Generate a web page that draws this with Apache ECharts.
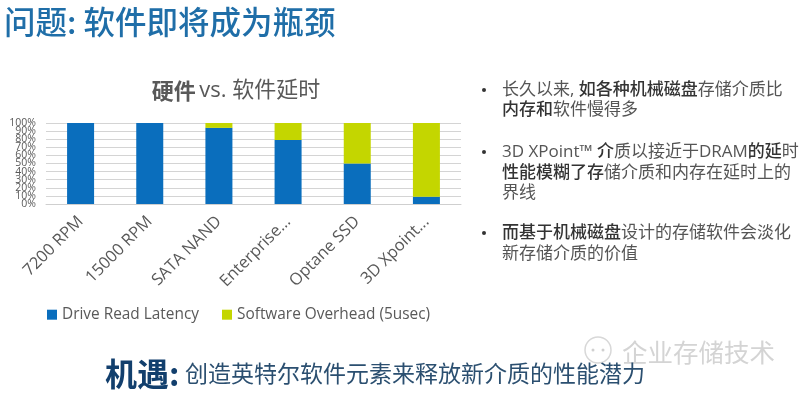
<!DOCTYPE html>
<html>
<head>
<meta charset="utf-8">
<style>
  html, body { margin: 0; padding: 0; background: #fff; }
  #chart { width: 800px; height: 394px; }
</style>
<script src="https://cdn.jsdelivr.net/npm/echarts@6/dist/echarts.min.js"></script>
</head>
<body>
<div id="chart"></div>
<script>
var categories = ["7200 RPM", "15000 RPM", "SATA NAND", "Enterprise...", "Optane SSD", "3D Xpoint..."];
var driveLatency = [100, 100, 94, 79, 50, 9];
var softwareOverhead = [0, 0, 6, 21, 50, 91];
var yTicks = [0, 10, 20, 30, 40, 50, 60, 70, 80, 90, 100];

var seriesNames = ["Drive Read Latency", "Software Overhead (5usec)"];
var cjk = '"Noto Sans CJK SC", sans-serif';
var latin = '"Open Sans", "Noto Sans CJK SC", sans-serif';

// 右侧要点，{b|} 是粗体
var bulletLines = [
  { y: 90, bullet: true, text: "{r|长久以来, }{b|如各种机械磁盘}{r|存储介质比}" },
  { y: 110, text: "{b|内存和}{r|软件慢得多}" },
  { y: 152, bullet: true, text: "{r|3D XPoint™ }{b|介}{r|质以接近于DRAM}{b|的延}{r|时}" },
  { y: 173, text: "{b|性能模糊了存}{r|储介质和内存在延时上的}" },
  { y: 193, text: "{r|界线}" },
  { y: 233, bullet: true, text: "{b|而基于机械磁盘}{r|设计的存储软件会淡化}" },
  { y: 254, text: "{r|新存储介质的价值}" }
];

function textEl(x, y, text, font, size, color, weight, align) {
  return {
    type: "text",
    x: x,
    y: y,
    style: {
      text: text,
      fontFamily: font,
      fontSize: size,
      fontWeight: weight || "normal",
      fill: color,
      align: align || "left",
      verticalAlign: "middle"
    }
  };
}

var graphics = [
  textEl(4, 22, "问题: 软件即将成为瓶颈", cjk, 31.5, "#1f6ea8", "500"),
  {
    type: "text",
    x: 236,
    y: 91,
    style: {
      text: "{b|硬件} {r|vs. 软件延时}",
      align: "center",
      verticalAlign: "middle",
      rich: {
        b: { fontFamily: cjk, fontSize: 22, fontWeight: "bold", fill: "#595959" },
        r: { fontFamily: latin, fontSize: 22, fill: "#595959" }
      }
    }
  },
  // 水印
  textEl(622, 352, "企业存储技术", cjk, 25.5, "#d4d4d4"),
  {
    type: "circle",
    shape: { cx: 598, cy: 350, r: 13 },
    style: { fill: "none", stroke: "#d8d8d8", lineWidth: 1.5 }
  },
  {
    type: "circle",
    shape: { cx: 593, cy: 350, r: 1.5 },
    style: { fill: "#d0d0d0" }
  },
  {
    type: "circle",
    shape: { cx: 603, cy: 350, r: 1.5 },
    style: { fill: "#d0d0d0" }
  },
  textEl(105, 374, "机遇:", cjk, 32, "#123f6d", "bold"),
  textEl(185, 373, "创造英特尔软件元素来释放新介质的性能潜力", cjk, 23, "#2b4f70")
];

bulletLines.forEach(function (line) {
  if (line.bullet) {
    graphics.push({
      type: "circle",
      shape: { cx: 484, cy: line.y, r: 2 },
      style: { fill: "#333333" }
    });
  }
  graphics.push({
    type: "text",
    x: 502,
    y: line.y,
    style: {
      text: line.text,
      verticalAlign: "middle",
      rich: {
        b: { fontFamily: latin, fontSize: 17, fontWeight: "500", fill: "#333333" },
        r: { fontFamily: latin, fontSize: 17, fill: "#555555" }
      }
    }
  });
});

var yLabel = {
  formatter: "{value}%",
  margin: 10,
  color: "#595959",
  fontSize: 10.5,
  fontFamily: latin,
  hideOverlap: false
};

var myChart = echarts.init(document.getElementById("chart"), null, { renderer: "canvas" });
var option = {
  backgroundColor: "#ffffff",
  animation: false,
  legend: {
    left: 42,
    top: 302,
    itemWidth: 10,
    itemHeight: 10,
    itemGap: 23,
    icon: "rect",
    textStyle: { color: "#595959", fontSize: 15.4, fontFamily: latin },
    data: seriesNames
  },
  grid: { left: 46, right: 339, top: 123, bottom: 190 },
  xAxis: {
    type: "category",
    data: categories,
    axisTick: { show: false },
    axisLine: { lineStyle: { color: "#cfcfcf" } },
    axisLabel: {
      rotate: 45,
      interval: 0,
      margin: 15,
      padding: [6, 0, 0, 0],
      color: "#595959",
      fontSize: 16.5,
      fontFamily: latin
    }
  },
  yAxis: [
    {
      type: "value",
      min: yTicks[0],
      max: yTicks[yTicks.length - 1],
      interval: 10,
      axisLine: { show: false },
      axisTick: { show: false },
      // 刻度太密，首尾标签放到第二根轴上画，否则相邻标签会被隐藏
      axisLabel: Object.assign({ showMinLabel: false, showMaxLabel: false }, yLabel),
      splitLine: { lineStyle: { color: "#d4d4d4" } }
    },
    {
      type: "value",
      position: "left",
      min: yTicks[0],
      max: yTicks[yTicks.length - 1],
      interval: 100,
      axisLine: { show: false },
      axisTick: { show: false },
      axisLabel: yLabel,
      splitLine: { show: false }
    }
  ],
  series: [
    {
      name: seriesNames[0],
      type: "bar",
      stack: "latency",
      barWidth: 27,
      itemStyle: { color: "#0a6ebd" },
      data: driveLatency
    },
    {
      name: seriesNames[1],
      type: "bar",
      stack: "latency",
      barWidth: 27,
      itemStyle: { color: "#c4d600" },
      data: softwareOverhead
    }
  ],
  graphic: graphics
};
myChart.setOption(option);
</script>
</body>
</html>
